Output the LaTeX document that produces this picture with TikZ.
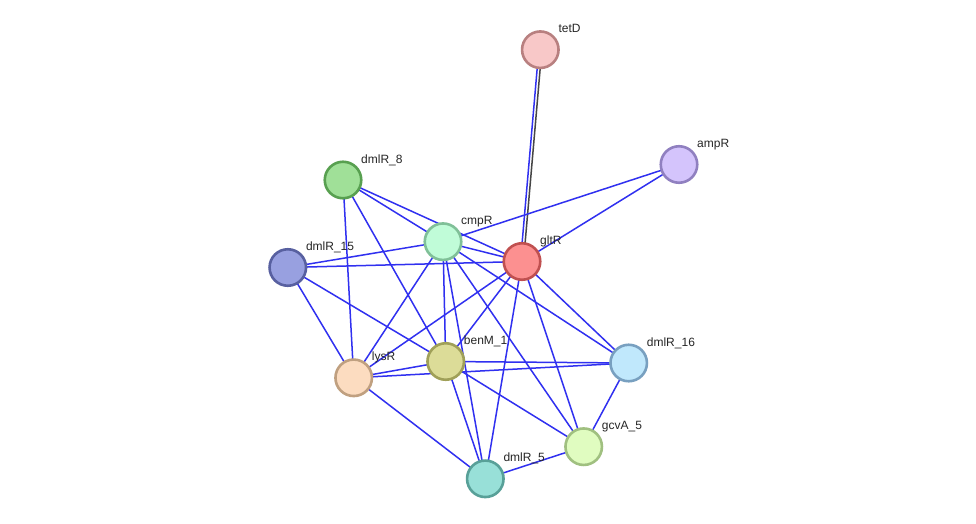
\documentclass[tikz,border=0pt]{standalone}
\usepackage{fontspec}
\setmainfont{Liberation Sans}
\definecolor{edgeblue}{RGB}{48,48,240}
\definecolor{edgegray}{RGB}{70,70,70}
\pgfdeclarelayer{edges}
\pgfsetlayers{edges,main}
\begin{document}
\begin{tikzpicture}[x=1pt,y=-1pt,
  prot/.style={circle,minimum size=36.5pt,inner sep=0pt,line width=2.6pt},
  lbl/.style={anchor=base west,inner sep=0pt,font=\fontsize{12pt}{14pt}\selectfont,text=black!85},
  link/.style={draw=edgeblue,line width=1.5pt}]
\useasboundingbox (0,0) rectangle (976,524);
% node positions
\coordinate (ptetD) at (540.3,49.7);
\coordinate (pampR) at (679,164.5);
\coordinate (pdmlR8) at (343,180);
\coordinate (pcmpR) at (443,241.7);
\coordinate (pgltR) at (522,261.5);
\coordinate (pdmlR15) at (287.8,267.5);
\coordinate (plysR) at (353.7,377.8);
\coordinate (pbenM) at (445.7,361.5);
\coordinate (pdmlR16) at (628.7,363);
\coordinate (pgcvA) at (583.7,446.7);
\coordinate (pdmlR5) at (485.3,478.8);
% nodes
\node[prot,draw={rgb,255:red,184;green,128;blue,128},fill={rgb,255:red,248;green,200;blue,200}] (tetD) at (ptetD) {};
\node[prot,draw={rgb,255:red,144;green,128;blue,192},fill={rgb,255:red,212;green,196;blue,252}] (ampR) at (pampR) {};
\node[prot,draw={rgb,255:red,88;green,160;blue,80},fill={rgb,255:red,160;green,224;blue,152}] (dmlR8) at (pdmlR8) {};
\node[prot,draw={rgb,255:red,128;green,192;blue,152},fill={rgb,255:red,192;green,252;blue,216}] (cmpR) at (pcmpR) {};
\node[prot,draw={rgb,255:red,192;green,80;blue,80},fill={rgb,255:red,252;green,144;blue,144}] (gltR) at (pgltR) {};
\node[prot,draw={rgb,255:red,88;green,96;blue,160},fill={rgb,255:red,152;green,160;blue,224}] (dmlR15) at (pdmlR15) {};
\node[prot,draw={rgb,255:red,192;green,160;blue,128},fill={rgb,255:red,252;green,220;blue,192}] (lysR) at (plysR) {};
\node[prot,draw={rgb,255:red,160;green,160;blue,88},fill={rgb,255:red,220;green,220;blue,152}] (benM) at (pbenM) {};
\node[prot,draw={rgb,255:red,120;green,160;blue,192},fill={rgb,255:red,192;green,232;blue,252}] (dmlR16) at (pdmlR16) {};
\node[prot,draw={rgb,255:red,160;green,192;blue,128},fill={rgb,255:red,224;green,252;blue,192}] (gcvA) at (pgcvA) {};
\node[prot,draw={rgb,255:red,88;green,160;blue,152},fill={rgb,255:red,152;green,224;blue,216}] (dmlR5) at (pdmlR5) {};
% labels
\node[lbl] (ltetD) at ([shift={(18,-17)}]ptetD) {tetD};
\node[lbl] (lampR) at ([shift={(18,-17)}]pampR) {ampR};
\node[lbl] (ldmlR8) at ([shift={(18,-17)}]pdmlR8) {dmlR\_8};
\node[lbl] (lcmpR) at ([shift={(18,-17)}]pcmpR) {cmpR};
\node[lbl] (lgltR) at ([shift={(18,-17)}]pgltR) {gltR};
\node[lbl] (ldmlR15) at ([shift={(18,-17)}]pdmlR15) {dmlR\_15};
\node[lbl] (llysR) at ([shift={(18,-17)}]plysR) {lysR};
\node[lbl] (lbenM) at ([shift={(18,-17)}]pbenM) {benM\_1};
\node[lbl] (ldmlR16) at ([shift={(18,-17)}]pdmlR16) {dmlR\_16};
\node[lbl] (lgcvA) at ([shift={(18,-17)}]pgcvA) {gcvA\_5};
\node[lbl] (ldmlR5) at ([shift={(18,-17)}]pdmlR5) {dmlR\_5};
% edges (behind nodes)
\begin{pgfonlayer}{edges}
\fill[white] (0,0) rectangle (976,524);
\draw[link] ([xshift=-1.5pt]ptetD) -- ([xshift=-1.5pt]pgltR);
\draw[draw=edgegray,line width=1.5pt] ([xshift=1.5pt]ptetD) -- ([xshift=1.5pt]pgltR);
\foreach \a/\b in {ampR/cmpR,ampR/gltR,
  dmlR8/cmpR,dmlR8/gltR,dmlR8/lysR,dmlR8/benM,
  dmlR15/cmpR,dmlR15/gltR,dmlR15/lysR,dmlR15/benM,
  cmpR/gltR,cmpR/lysR,cmpR/benM,cmpR/dmlR5,cmpR/gcvA,cmpR/dmlR16,
  gltR/lysR,gltR/benM,gltR/dmlR5,gltR/gcvA,gltR/dmlR16,
  lysR/benM,lysR/dmlR16,lysR/dmlR5,
  benM/dmlR16,benM/gcvA,benM/dmlR5,
  gcvA/dmlR16,gcvA/dmlR5}
  \draw[link] (\a.center) -- (\b.center);
\end{pgfonlayer}
\end{tikzpicture}
\end{document}
